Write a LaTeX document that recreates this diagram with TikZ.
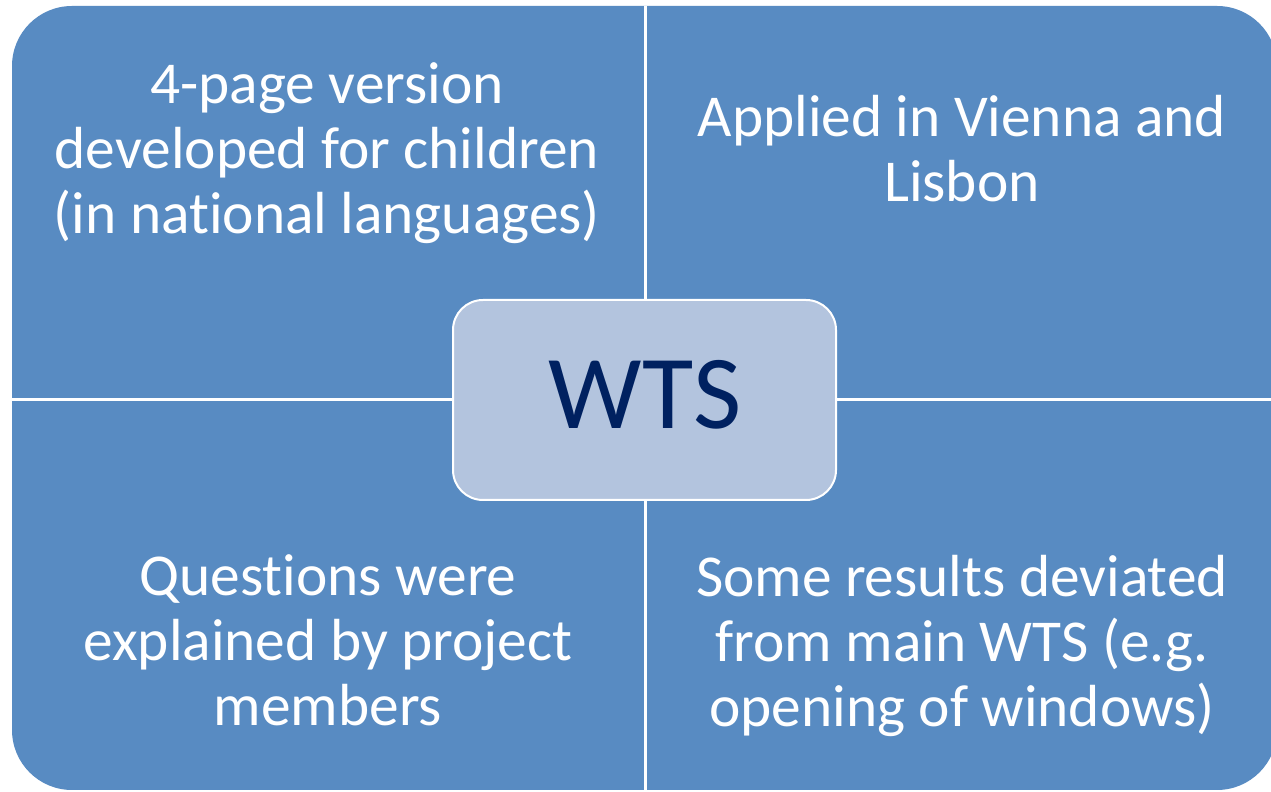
\documentclass[tikz,border=0pt]{standalone}
\usepackage{fontspec}
\setmainfont{Carlito}[Ligatures=NoCommon]
\definecolor{quad}{RGB}{88,139,194}
\definecolor{hub}{RGB}{179,196,222}
\definecolor{navy}{RGB}{0,33,96}
\tikzset{
  qtext/.style={text=white, align=center, inner sep=0pt, anchor=base,
    font=\fontsize{59.4}{65}\selectfont},
  hubbox/.style={draw=white, line width=2pt, fill=hub, rounded corners=30pt,
    minimum width=383pt, minimum height=200pt, inner sep=0pt},
  divider/.style={white, line width=3pt}
}
\begin{document}
\begin{tikzpicture}[x=1pt,y=1pt]
\useasboundingbox (0,0) rectangle (1271,792);
\begin{scope}
\clip (0,0) rectangle (1271,792);
\fill[quad, rounded corners=60pt] (12,2) rectangle (1277,786);
\coordinate (vtop) at (645,786);
\coordinate (vbot) at (645,0);
\coordinate (hleft) at (10,392);
\coordinate (hright) at (1280,392);
\draw[divider] (vtop) -- (vbot);
\draw[divider] (hleft) -- (hright);
\end{scope}
\node[hubbox] (hub) at (644.5,392) {};
\node[text=navy, font=\fontsize{105}{110}\selectfont, anchor=base, inner sep=0pt] (wts) at (645,363) {WTS};
\node[qtext] (tl) at (327,558) {4-page version\\developed for children\\(in national languages)};
\node[qtext] (tr) at (962,590) {Applied in Vienna and\\Lisbon};
\node[qtext] (bl) at (328,66) {Questions were\\explained by project\\members};
\node[qtext] (br) at (962,65) {Some results deviated\\from main WTS (e.g.\\opening of windows)};
\end{tikzpicture}
\end{document}
